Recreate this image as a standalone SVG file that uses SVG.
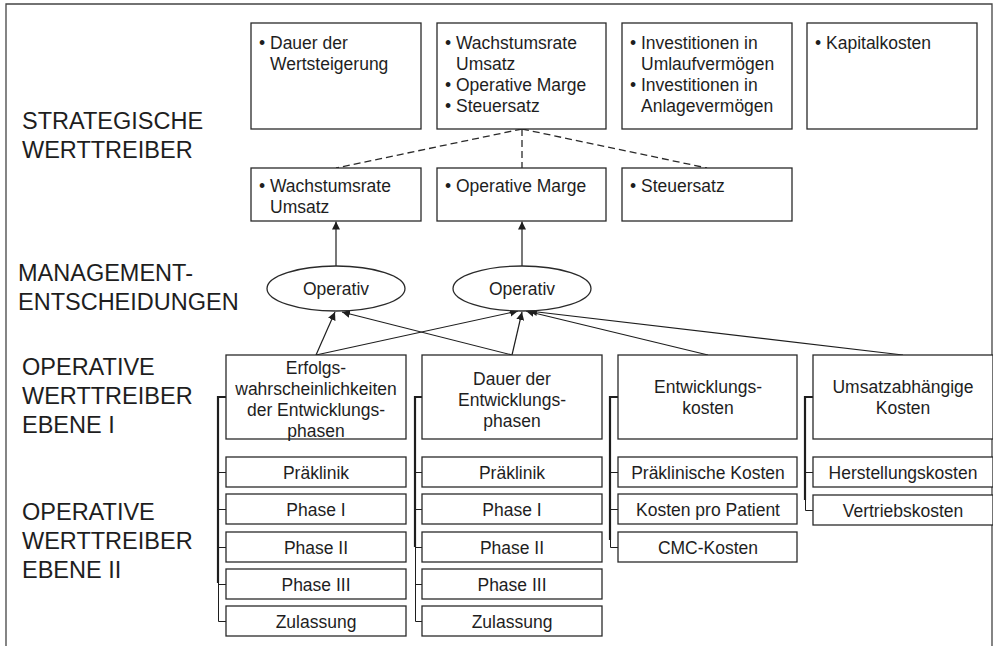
<svg xmlns="http://www.w3.org/2000/svg" width="993" height="646" viewBox="0 0 993 646">
  <style>
    .box { fill: #fff; stroke: #2a2a2a; stroke-width: 1.3; }
    .txt { font-family: "Liberation Sans", Arial, sans-serif; font-size: 17.5px; fill: #1e1e1e; }
    .mid { text-anchor: middle; }
    .lbl { font-family: "Liberation Sans", Arial, sans-serif; font-size: 23.5px; fill: #1e1e1e; }
    .arrow { stroke: #1e1e1e; stroke-width: 1.2; fill: none; marker-end: url(#ah); }
    .dash { stroke: #2a2a2a; stroke-width: 1.3; fill: none; stroke-dasharray: 7 4; }
    .brk { stroke: #1e1e1e; fill: none; }
  </style>
  <defs>
    <marker id="ah" viewBox="0 0 10 10" refX="10" refY="5" markerWidth="8" markerHeight="8" markerUnits="userSpaceOnUse" orient="auto">
      <path d="M0,0 L10,5 L0,10 z" fill="#1e1e1e"/>
    </marker>
  </defs>

  <rect width="993" height="646" fill="#fff"/>

  <!-- frame -->
  <path d="M6,660 V4 H992 V660" fill="none" stroke="#444" stroke-width="1.3"/>

  <!-- level labels -->
  <g id="labels">
    <text class="lbl" x="22" y="129">STRATEGISCHE</text>
    <text class="lbl" x="22" y="158">WERTTREIBER</text>
    <text class="lbl" x="18" y="281">MANAGEMENT-</text>
    <text class="lbl" x="18" y="310">ENTSCHEIDUNGEN</text>
    <text class="lbl" x="22" y="375">OPERATIVE</text>
    <text class="lbl" x="22" y="404">WERTTREIBER</text>
    <text class="lbl" x="22" y="433">EBENE I</text>
    <text class="lbl" x="22" y="520">OPERATIVE</text>
    <text class="lbl" x="22" y="549">WERTTREIBER</text>
    <text class="lbl" x="22" y="578">EBENE II</text>
  </g>

  <!-- connectors -->
  <g id="connectors">
    <!-- dashed split of the growth/margin/tax box -->
    <path class="dash" d="M522,129 L336,168"/>
    <path class="dash" d="M522,129 L522,168"/>
    <path class="dash" d="M522,129 L707,168"/>
    <!-- decisions to strategic drivers -->
    <line class="arrow" x1="336" y1="266" x2="336" y2="221.5"/>
    <line class="arrow" x1="522" y1="266" x2="522" y2="221.5"/>
    <!-- operative drivers to decisions -->
    <line class="arrow" x1="316" y1="355" x2="335" y2="312"/>
    <line class="arrow" x1="316" y1="355" x2="518" y2="311"/>
    <line class="arrow" x1="512" y1="355" x2="342" y2="312"/>
    <line class="arrow" x1="512" y1="355" x2="522" y2="312"/>
    <line class="arrow" x1="708" y1="355" x2="526" y2="311"/>
    <line class="arrow" x1="903" y1="355" x2="529" y2="311"/>

    <!-- brackets level I to level II -->
    <path class="brk" stroke-width="2.2" d="M226,397 H218 V583"/>
    <path class="brk" stroke-width="1" d="M218.5,583 V621.5 H226 M218,472.5 H226 M218,509.5 H226 M218,547.5 H226 M218,584.5 H226"/>

    <path class="brk" stroke-width="2.2" d="M422,397 H415 V547"/>
    <path class="brk" stroke-width="1" d="M415.5,547 V621.5 H422 M415,472.5 H422 M415,509.5 H422 M415,547.5 H422 M415,584.5 H422"/>

    <path class="brk" stroke-width="2.2" d="M618,397 H610 V540"/>
    <path class="brk" stroke-width="1" d="M610.5,540 V547.5 H618 M610,472.5 H618 M610,509.5 H618"/>

    <path class="brk" stroke-width="2.2" d="M813,397 H805 V500"/>
    <path class="brk" stroke-width="1" d="M805.5,500 V510.5 H813 M805,472.5 H813"/>
  </g>

  <!-- strategic drivers, top row -->
  <g id="s-dauer">
    <rect class="box" x="251" y="23" width="170" height="106"/>
    <text class="txt" x="259" y="49">•</text>
    <text class="txt" x="270" y="49">Dauer der</text>
    <text class="txt" x="270" y="70">Wertsteigerung</text>
  </g>
  <g id="s-umsatz">
    <rect class="box" x="437" y="23" width="169" height="106"/>
    <text class="txt" x="445" y="49">•</text>
    <text class="txt" x="456" y="49">Wachstumsrate</text>
    <text class="txt" x="456" y="70">Umsatz</text>
    <text class="txt" x="445" y="91">•</text>
    <text class="txt" x="456" y="91">Operative Marge</text>
    <text class="txt" x="445" y="112">•</text>
    <text class="txt" x="456" y="112">Steuersatz</text>
  </g>
  <g id="s-invest">
    <rect class="box" x="622" y="23" width="170" height="106"/>
    <text class="txt" x="630" y="49">•</text>
    <text class="txt" x="641" y="49">Investitionen in</text>
    <text class="txt" x="641" y="70">Umlaufvermögen</text>
    <text class="txt" x="630" y="91">•</text>
    <text class="txt" x="641" y="91">Investitionen in</text>
    <text class="txt" x="641" y="112">Anlagevermögen</text>
  </g>
  <g id="s-kapital">
    <rect class="box" x="807" y="23" width="170" height="106"/>
    <text class="txt" x="815" y="49">•</text>
    <text class="txt" x="826" y="49">Kapitalkosten</text>
  </g>

  <!-- strategic drivers, second row -->
  <g id="s-wachstum">
    <rect class="box" x="251" y="168" width="170" height="53"/>
    <text class="txt" x="259" y="192">•</text>
    <text class="txt" x="270" y="192">Wachstumsrate</text>
    <text class="txt" x="270" y="213">Umsatz</text>
  </g>
  <g id="s-marge">
    <rect class="box" x="437" y="168" width="169" height="53"/>
    <text class="txt" x="445" y="192">•</text>
    <text class="txt" x="456" y="192">Operative Marge</text>
  </g>
  <g id="s-steuer">
    <rect class="box" x="622" y="168" width="170" height="53"/>
    <text class="txt" x="630" y="192">•</text>
    <text class="txt" x="641" y="192">Steuersatz</text>
  </g>

  <!-- management decisions -->
  <g id="m-operativ-1">
    <ellipse class="box" cx="336" cy="288.5" rx="69" ry="22.5"/>
    <text class="txt mid" x="336" y="295">Operativ</text>
  </g>
  <g id="m-operativ-2">
    <ellipse class="box" cx="522" cy="288.5" rx="69" ry="22.5"/>
    <text class="txt mid" x="522" y="295">Operativ</text>
  </g>

  <!-- operative drivers level I -->
  <g id="o1-erfolg">
    <rect class="box" x="226" y="355" width="180" height="84"/>
    <text class="txt mid" x="316" y="374">Erfolgs-</text>
    <text class="txt mid" x="316" y="395">wahrscheinlichkeiten</text>
    <text class="txt mid" x="316" y="416">der Entwicklungs-</text>
    <text class="txt mid" x="316" y="437">phasen</text>
  </g>
  <g id="o1-dauer">
    <rect class="box" x="422" y="355" width="180" height="84"/>
    <text class="txt mid" x="512" y="385">Dauer der</text>
    <text class="txt mid" x="512" y="406">Entwicklungs-</text>
    <text class="txt mid" x="512" y="427">phasen</text>
  </g>
  <g id="o1-entw">
    <rect class="box" x="618" y="355" width="179" height="84"/>
    <text class="txt mid" x="708" y="393">Entwicklungs-</text>
    <text class="txt mid" x="708" y="414">kosten</text>
  </g>
  <g id="o1-umsatz">
    <rect class="box" x="813" y="355" width="180" height="84"/>
    <text class="txt mid" x="903" y="393">Umsatzabhängige</text>
    <text class="txt mid" x="903" y="414">Kosten</text>
  </g>

  <!-- operative drivers level II: column 1 -->
  <g id="o2-c1-praeklinik"><rect class="box" x="226" y="457" width="180" height="30"/><text class="txt mid" x="316" y="479">Präklinik</text></g>
  <g id="o2-c1-phase1"><rect class="box" x="226" y="494" width="180" height="30"/><text class="txt mid" x="316" y="516">Phase I</text></g>
  <g id="o2-c1-phase2"><rect class="box" x="226" y="532" width="180" height="30"/><text class="txt mid" x="316" y="554">Phase II</text></g>
  <g id="o2-c1-phase3"><rect class="box" x="226" y="569" width="180" height="30"/><text class="txt mid" x="316" y="591">Phase III</text></g>
  <g id="o2-c1-zulassung"><rect class="box" x="226" y="606" width="180" height="30"/><text class="txt mid" x="316" y="628">Zulassung</text></g>

  <!-- column 2 -->
  <g id="o2-c2-praeklinik"><rect class="box" x="422" y="457" width="180" height="30"/><text class="txt mid" x="512" y="479">Präklinik</text></g>
  <g id="o2-c2-phase1"><rect class="box" x="422" y="494" width="180" height="30"/><text class="txt mid" x="512" y="516">Phase I</text></g>
  <g id="o2-c2-phase2"><rect class="box" x="422" y="532" width="180" height="30"/><text class="txt mid" x="512" y="554">Phase II</text></g>
  <g id="o2-c2-phase3"><rect class="box" x="422" y="569" width="180" height="30"/><text class="txt mid" x="512" y="591">Phase III</text></g>
  <g id="o2-c2-zulassung"><rect class="box" x="422" y="606" width="180" height="30"/><text class="txt mid" x="512" y="628">Zulassung</text></g>

  <!-- column 3 -->
  <g id="o2-c3-praeklinisch"><rect class="box" x="618" y="457" width="179" height="30"/><text class="txt mid" x="708" y="479">Präklinische Kosten</text></g>
  <g id="o2-c3-patient"><rect class="box" x="618" y="494" width="179" height="30"/><text class="txt mid" x="708" y="516">Kosten pro Patient</text></g>
  <g id="o2-c3-cmc"><rect class="box" x="618" y="532" width="179" height="30"/><text class="txt mid" x="708" y="554">CMC-Kosten</text></g>

  <!-- column 4 -->
  <g id="o2-c4-herstellung"><rect class="box" x="813" y="457" width="180" height="30"/><text class="txt mid" x="903" y="479">Herstellungskosten</text></g>
  <g id="o2-c4-vertrieb"><rect class="box" x="813" y="495" width="180" height="30"/><text class="txt mid" x="903" y="517">Vertriebskosten</text></g>
</svg>
